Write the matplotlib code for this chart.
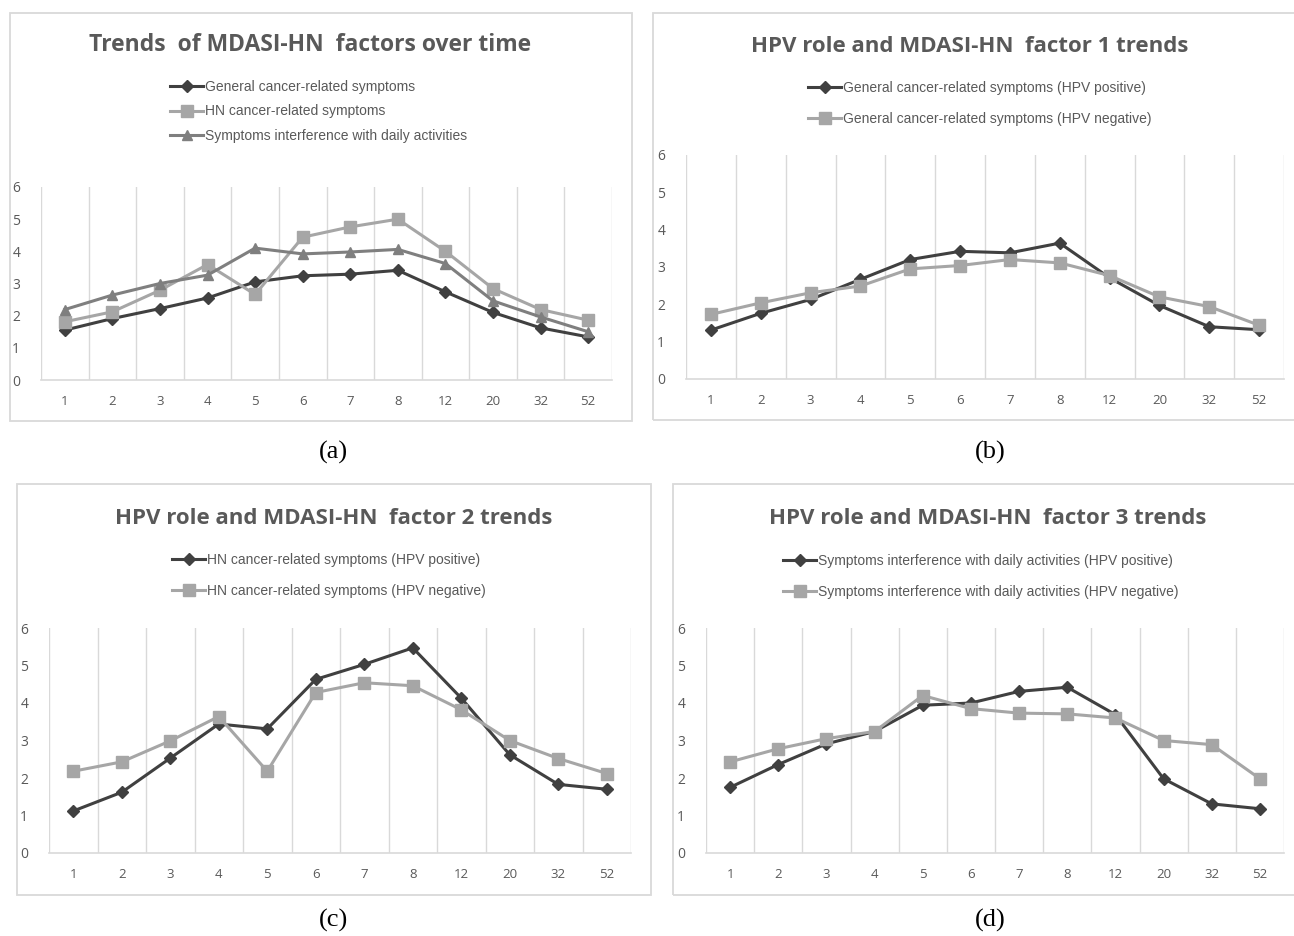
import matplotlib
matplotlib.use("Agg")
import matplotlib.pyplot as plt
from matplotlib.patches import Rectangle
import numpy as np

W, H = 1294, 936

weeks = ["1", "2", "3", "4", "5", "6", "7", "8", "12", "20", "32", "52"]

# (a) all patients
general_all = [1.55, 1.91, 2.22, 2.55, 3.05, 3.24, 3.29, 3.41, 2.74, 2.10, 1.62, 1.34]
hn_all = [1.81, 2.12, 2.79, 3.59, 2.66, 4.44, 4.76, 5.00, 4.00, 2.84, 2.19, 1.86]
interf_all = [2.19, 2.64, 3.00, 3.26, 4.10, 3.92, 3.98, 4.06, 3.62, 2.46, 1.96, 1.50]

# (b) factor 1
f1_pos = [1.31, 1.76, 2.13, 2.67, 3.20, 3.42, 3.38, 3.64, 2.71, 1.97, 1.40, 1.32]
f1_neg = [1.73, 2.04, 2.31, 2.49, 2.95, 3.04, 3.20, 3.11, 2.77, 2.20, 1.94, 1.44]

# (c) factor 2
f2_pos = [1.12, 1.62, 2.53, 3.44, 3.31, 4.63, 5.03, 5.47, 4.13, 2.62, 1.83, 1.70]
f2_neg = [2.18, 2.43, 2.99, 3.64, 2.18, 4.28, 4.54, 4.46, 3.82, 3.00, 2.52, 2.12]

# (d) factor 3
f3_pos = [1.75, 2.36, 2.91, 3.24, 3.94, 4.00, 4.31, 4.42, 3.69, 1.98, 1.31, 1.18]
f3_neg = [2.43, 2.78, 3.05, 3.24, 4.20, 3.85, 3.73, 3.71, 3.60, 3.00, 2.89, 1.98]

DARK = "#404040"
LIGHT = "#a6a6a6"
MID = "#7f7f7f"
GRID = "#d9d9d9"
TXT = "#595959"

TITLE_FONT = ["Open Sans", "DejaVu Sans"]
LEG_FONT = ["Liberation Sans", "DejaVu Sans"]
TICK_FONT = ["Open Sans", "DejaVu Sans"]
CAP_FONT = ["Liberation Serif", "DejaVu Serif"]

fig = plt.figure(figsize=(W / 100, H / 100), dpi=100)
fig.patch.set_facecolor("white")


def fx(x):
    return x / W


def fy(y):
    return 1 - y / H


def border(x0, y0, x1, y1):
    fig.patches.append(Rectangle((fx(x0), fy(y1)), fx(x1) - fx(x0), fy(y0) - fy(y1),
                                 transform=fig.transFigure, fill=False,
                                 edgecolor=GRID, linewidth=1.3, zorder=0))


def make_axes(left, top, right, bottom):
    ax = fig.add_axes([fx(left), fy(bottom), fx(right) - fx(left), fy(top) - fy(bottom)])
    ax.set_xlim(-0.5, len(weeks) - 0.5)
    ax.set_ylim(0, 6)
    ax.set_xticks(range(len(weeks)))
    ax.set_xticklabels(weeks)
    ax.set_yticks(range(7))
    ax.set_xticks(np.arange(-0.5, len(weeks), 1.0), minor=True)
    ax.grid(True, which="minor", axis="x", color=GRID, linewidth=1.0)
    ax.tick_params(which="both", length=0)
    ax.tick_params(axis="x", pad=11, labelsize=9.5, labelcolor=TXT)
    ax.tick_params(axis="y", pad=15, labelsize=10, labelcolor=TXT)
    for lab in ax.get_xticklabels() + ax.get_yticklabels():
        lab.set_family(TICK_FONT)
    for s in ["top", "right", "left"]:
        ax.spines[s].set_visible(False)
    ax.spines["bottom"].set_color(GRID)
    ax.spines["bottom"].set_linewidth(1.2)
    ax.set_facecolor("none")
    return ax


def series(ax, vals, color, marker, ms, label):
    x = np.arange(len(weeks))
    return ax.plot(x, vals, color=color, linewidth=2.2, marker=marker, markersize=ms,
                   markerfacecolor=color, markeredgecolor=color, label=label,
                   clip_on=False, zorder=3)[0]


def legend(ax, handles, x, y, spacing):
    leg = ax.legend(handles=handles, loc="upper left", bbox_to_anchor=(fx(x), fy(y)),
                    bbox_transform=fig.transFigure, frameon=False, borderpad=0,
                    borderaxespad=0, handlelength=2.4, handletextpad=0.15,
                    labelspacing=spacing, prop={"family": LEG_FONT, "size": 10})
    for t in leg.get_texts():
        t.set_color(TXT)


def title(x, y, s, size=16):
    fig.text(fx(x), fy(y), s, ha="center", va="center", fontsize=size,
             fontweight="bold", color=TXT, family=TITLE_FONT)


def caption(x, y, s):
    fig.text(fx(x), fy(y), s, ha="center", va="center", fontsize=19, family=CAP_FONT)


# ---- (a)
border(10, 13, 632, 421)
ax = make_axes(41, 187, 612, 380)
h1 = series(ax, general_all, DARK, "D", 6, "General cancer-related symptoms")
h2 = series(ax, hn_all, LIGHT, "s", 8, "HN cancer-related symptoms")
h3 = series(ax, interf_all, MID, "^", 7, "Symptoms interference with daily activities")
legend(ax, [h1, h2, h3], 170, 80, 0.75)
title(310, 45, "Trends  of MDASI-HN  factors over time", size=16.5)
caption(333, 452, "(a)")

# ---- (b)
border(653, 13, 1300, 420)
ax = make_axes(686, 155, 1284, 379)
h1 = series(ax, f1_pos, DARK, "D", 6, "General cancer-related symptoms (HPV positive)")
h2 = series(ax, f1_neg, LIGHT, "s", 8, "General cancer-related symptoms (HPV negative)")
legend(ax, [h1, h2], 808, 81, 1.25)
title(970, 47, "HPV role and MDASI-HN  factor 1 trends")
caption(990, 452, "(b)")

# ---- (c)
border(17, 484, 651, 895)
ax = make_axes(49, 628, 631, 853)
h1 = series(ax, f2_pos, DARK, "D", 6, "HN cancer-related symptoms (HPV positive)")
h2 = series(ax, f2_neg, LIGHT, "s", 8, "HN cancer-related symptoms (HPV negative)")
legend(ax, [h1, h2], 172, 553, 1.2)
title(334, 518, "HPV role and MDASI-HN  factor 2 trends")
caption(333, 920, "(c)")

# ---- (d)
border(673, 484, 1300, 895)
ax = make_axes(706, 628, 1284, 853)
h1 = series(ax, f3_pos, DARK, "D", 6, "Symptoms interference with daily activities (HPV positive)")
h2 = series(ax, f3_neg, LIGHT, "s", 8, "Symptoms interference with daily activities (HPV negative)")
legend(ax, [h1, h2], 783, 554, 1.2)
title(988, 518, "HPV role and MDASI-HN  factor 3 trends")
caption(990, 920, "(d)")

fig.savefig("out.png", dpi=100, facecolor="white")
